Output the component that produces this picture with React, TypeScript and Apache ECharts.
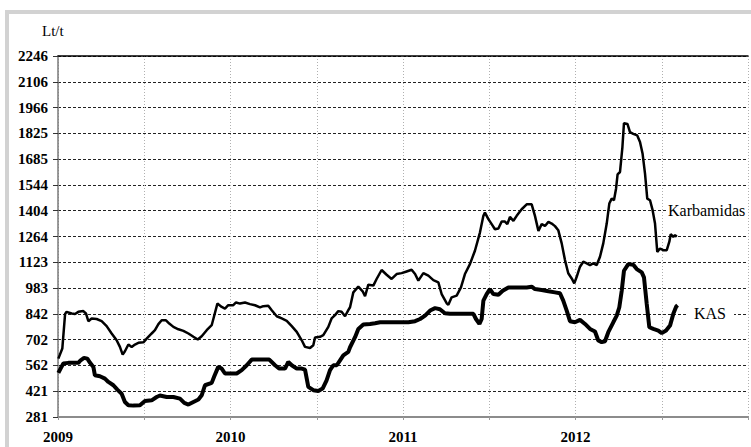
import React, { useEffect, useRef } from "react";
import * as echarts from "echarts";

// Y tick labels (as printed on the chart)
const yTickLabels = ["281", "421", "562", "702", "842", "983", "1123", "1264", "1404", "1544", "1685", "1825", "1966", "2106", "2246"];
const yMin = 281;
const yStep = 140.5;
const yMax = yMin + yStep * (yTickLabels.length - 1);

// X axis: years
const xYearLabels = ["2009", "2010", "2011", "2012"];
const xStart = 2009;
const xEnd = 2013;

// Karbamidas (urea) — offset in years from 2009, price Lt/t
const karbamidasT = [
  0.002, 0.025, 0.041, 0.05, 0.079, 0.099, 0.118, 0.147, 0.162, 0.176, 0.195, 0.224, 0.253, 0.282, 0.311, 0.34, 0.359, 0.375,
  0.388, 0.408, 0.427, 0.446, 0.466, 0.495, 0.514, 0.543, 0.562, 0.582, 0.601, 0.626, 0.645, 0.669, 0.698, 0.727, 0.756, 0.785,
  0.81, 0.833, 0.862, 0.891, 0.904, 0.924, 0.949, 0.968, 0.987, 1.016, 1.032, 1.055, 1.084, 1.113, 1.142, 1.171, 1.19, 1.219,
  1.239, 1.268, 1.297, 1.326, 1.355, 1.384, 1.413, 1.432, 1.461, 1.48, 1.49, 1.519, 1.538, 1.567, 1.586, 1.606, 1.625, 1.644,
  1.664, 1.683, 1.693, 1.712, 1.741, 1.766, 1.78, 1.799, 1.828, 1.847, 1.876, 1.905, 1.934, 1.963, 1.992, 2.021, 2.05, 2.07,
  2.089, 2.118, 2.147, 2.176, 2.205, 2.224, 2.253, 2.263, 2.282, 2.311, 2.336, 2.359, 2.388, 2.417, 2.446, 2.466, 2.475, 2.495,
  2.514, 2.533, 2.553, 2.572, 2.591, 2.605, 2.62, 2.64, 2.659, 2.688, 2.717, 2.746, 2.765, 2.785, 2.804, 2.823, 2.843, 2.862,
  2.881, 2.9, 2.92, 2.939, 2.958, 2.978, 2.993, 3.007, 3.026, 3.045, 3.065, 3.084, 3.103, 3.123, 3.142, 3.161, 3.181, 3.196,
  3.21, 3.223, 3.235, 3.244, 3.258, 3.272, 3.281, 3.301, 3.316, 3.335, 3.358, 3.374, 3.389, 3.403, 3.416, 3.432, 3.447, 3.461,
  3.474, 3.49, 3.509, 3.529, 3.544, 3.552, 3.567, 3.577, 3.587,
];
const karbamidasV = [
  599, 654, 842, 854, 845, 842, 854, 858, 845, 803, 818, 815, 803, 776, 736, 699, 663, 621,
  639, 676, 663, 676, 685, 688, 708, 736, 754, 787, 808, 808, 790, 772, 759, 750, 736, 718,
  703, 721, 754, 781, 827, 899, 881, 872, 890, 890, 905, 899, 905, 896, 890, 878, 885, 887,
  863, 830, 818, 805, 776, 745, 699, 663, 657, 672, 714, 718, 727, 772, 818, 836, 858, 854,
  830, 863, 879, 960, 991, 966, 939, 1002, 997, 1033, 1082, 1056, 1033, 1060, 1065, 1074, 1083, 1060,
  1024, 1065, 1051, 1027, 1015, 951, 901, 893, 933, 942, 987, 1060, 1114, 1187, 1286, 1377, 1395, 1359,
  1332, 1304, 1308, 1346, 1346, 1332, 1371, 1350, 1377, 1413, 1440, 1440, 1377, 1295, 1332, 1322, 1344, 1335,
  1321, 1299, 1227, 1136, 1064, 1036, 1009, 1045, 1100, 1127, 1118, 1109, 1118, 1109, 1154, 1227, 1335, 1444,
  1471, 1462, 1525, 1603, 1616, 1752, 1882, 1878, 1833, 1824, 1815, 1779, 1715, 1607, 1471, 1462, 1408, 1335,
  1181, 1199, 1190, 1190, 1236, 1277, 1263, 1272, 1263,
];

// KAS (UAN) — offset in years from 2009, price Lt/t
const kasT = [
  0.002, 0.015, 0.031, 0.06, 0.089, 0.118, 0.131, 0.151, 0.17, 0.186, 0.205, 0.214, 0.243, 0.272, 0.292, 0.321, 0.344, 0.369,
  0.388, 0.408, 0.437, 0.475, 0.504, 0.543, 0.572, 0.591, 0.63, 0.669, 0.707, 0.732, 0.756, 0.785, 0.814, 0.833, 0.852, 0.891,
  0.906, 0.929, 0.949, 0.968, 0.997, 1.036, 1.065, 1.094, 1.123, 1.152, 1.19, 1.225, 1.258, 1.283, 1.316, 1.335, 1.355, 1.384,
  1.413, 1.432, 1.451, 1.48, 1.509, 1.534, 1.557, 1.577, 1.596, 1.616, 1.635, 1.654, 1.683, 1.693, 1.722, 1.741, 1.77, 1.809,
  1.838, 1.867, 1.905, 1.944, 1.983, 2.031, 2.07, 2.099, 2.128, 2.157, 2.186, 2.214, 2.243, 2.272, 2.311, 2.35, 2.388, 2.408,
  2.423, 2.443, 2.456, 2.466, 2.485, 2.504, 2.524, 2.553, 2.578, 2.611, 2.64, 2.678, 2.717, 2.746, 2.765, 2.804, 2.843, 2.881,
  2.91, 2.929, 2.949, 2.968, 2.997, 3.026, 3.055, 3.084, 3.113, 3.132, 3.152, 3.171, 3.19, 3.219, 3.239, 3.254, 3.268, 3.281,
  3.306, 3.335, 3.355, 3.384, 3.397, 3.413, 3.428, 3.451, 3.48, 3.5, 3.525, 3.548, 3.567, 3.584, 3.592,
];
const kasV = [
  521, 545, 572, 576, 576, 576, 590, 603, 599, 576, 554, 508, 503, 490, 472, 454, 430, 408,
  363, 345, 343, 345, 368, 372, 390, 398, 390, 390, 381, 358, 349, 363, 376, 399, 454, 467,
  503, 554, 545, 518, 518, 518, 536, 563, 594, 594, 594, 594, 563, 545, 545, 581, 563, 545,
  545, 539, 445, 427, 423, 436, 481, 536, 563, 563, 590, 617, 636, 661, 716, 761, 785, 788,
  792, 797, 797, 797, 797, 797, 803, 815, 833, 861, 874, 868, 846, 843, 843, 843, 843, 843,
  815, 788, 815, 915, 951, 978, 951, 947, 969, 987, 987, 987, 987, 991, 978, 973, 966, 960,
  955, 915, 861, 803, 797, 810, 788, 761, 747, 698, 689, 694, 743, 797, 833, 879, 969, 1078,
  1114, 1111, 1087, 1069, 1042, 897, 770, 761, 752, 738, 752, 779, 843, 883, 890,
];

const FONT = "Times New Roman";

export default function App() {
  const ref = useRef<HTMLDivElement>(null);

  useEffect(() => {
    if (!ref.current) return;
    const chart = echarts.init(ref.current, undefined, { renderer: "svg" });
    const karbData = karbamidasT.map((t, i) => [xStart + t, karbamidasV[i]]);
    const kasData = kasT.map((t, i) => [xStart + t, kasV[i]]);

    chart.setOption({
      animation: false,
      backgroundColor: "#ffffff",
      textStyle: { fontFamily: FONT },
      grid: { left: 58, right: 3, top: 56, bottom: 30, containLabel: false },
      xAxis: [
        {
          type: "value",
          min: xStart,
          max: xEnd,
          interval: 0.5,
          axisLine: { show: true, lineStyle: { color: "#8c8c8c", width: 2 } },
          axisTick: { show: true, length: 3, lineStyle: { color: "#9a9a9a" } },
          axisLabel: {
            margin: 12,
            color: "#000",
            fontFamily: FONT,
            fontWeight: "bold",
            fontSize: 15,
            formatter: (v: number) => {
              const idx = Math.round(v - xStart);
              return Math.abs(v - Math.round(v)) < 1e-6 && idx < xYearLabels.length ? xYearLabels[idx] : "";
            },
          },
          splitLine: { show: true, lineStyle: { color: "#b0b0b0", width: 1, type: [1, 2] } },
        },
        {
          type: "value",
          position: "top",
          min: xStart,
          max: xEnd,
          interval: 0.5,
          axisLine: { show: true, lineStyle: { color: "#000", width: 1.5 } },
          axisTick: { show: false },
          axisLabel: { show: false },
          splitLine: { show: false },
        },
      ],
      yAxis: {
        type: "value",
        min: yMin,
        max: yMax,
        interval: yStep,
        axisLine: { show: true, lineStyle: { color: "#7a7a7a", width: 1.5 } },
        axisTick: { show: true, length: 5, lineStyle: { color: "#333" } },
        axisLabel: {
          margin: 10,
          color: "#000",
          fontFamily: FONT,
          fontWeight: "bold",
          fontSize: 15,
          formatter: (v: number) => yTickLabels[Math.round((v - yMin) / yStep)] ?? "",
        },
        splitLine: { show: true, lineStyle: { color: "#222", width: 1, type: [3, 2] } },
      },
      series: [
        {
          name: "Karbamidas",
          type: "line",
          xAxisIndex: 0,
          data: karbData,
          showSymbol: false,
          lineStyle: { color: "#000", width: 2.5 },
          z: 3,
        },
        {
          name: "KAS",
          type: "line",
          xAxisIndex: 0,
          data: kasData,
          showSymbol: false,
          lineStyle: { color: "#000", width: 4 },
          z: 3,
        },
      ],
      graphic: [
        {
          type: "rect",
          z: -10,
          silent: true,
          shape: { x: 7, y: 12, width: 760, height: 460 },
          style: { fill: "none", stroke: "#d2d2d2", lineWidth: 4 },
        },
        {
          type: "text",
          z: 10,
          style: { text: "Lt/t", x: 42, y: 31, fontFamily: FONT, fontSize: 15, fill: "#000", verticalAlign: "middle" },
        },
        {
          type: "text",
          z: 10,
          style: {
            text: "Karbamidas",
            x: 666,
            y: 210,
            fontFamily: FONT,
            fontSize: 16,
            fill: "#000",
            verticalAlign: "middle",
            backgroundColor: "#fff",
            padding: [2, 2, 2, 2],
          },
        },
        {
          type: "text",
          z: 10,
          style: {
            text: "KAS",
            x: 686,
            y: 313,
            fontFamily: FONT,
            fontSize: 16,
            fill: "#000",
            verticalAlign: "middle",
            backgroundColor: "#fff",
            padding: [2, 8, 2, 8],
          },
        },
      ],
    });
    return () => chart.dispose();
  }, []);

  return <div ref={ref} style={{ position: "fixed", left: 0, top: 0, width: 751, height: 447 }} />;
}
